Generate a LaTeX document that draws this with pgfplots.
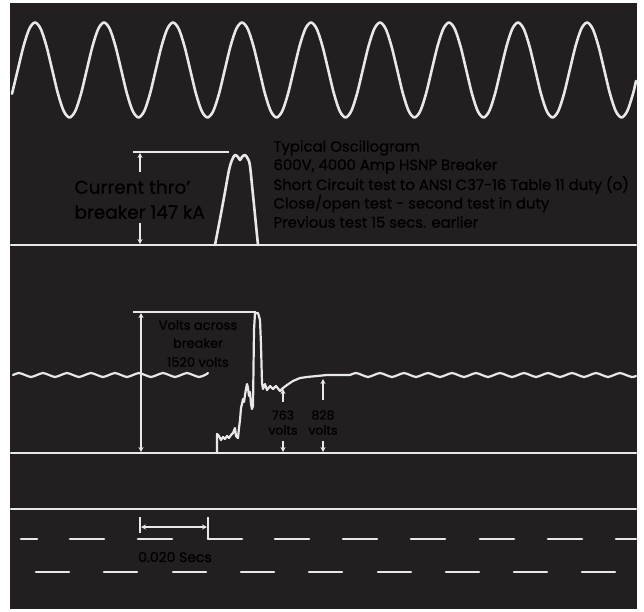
\documentclass[border=0pt]{standalone}
\usepackage{pgfplots}
\pgfplotsset{compat=1.18}
\usepackage{fontspec}
\setmainfont{Poppins}
\usetikzlibrary{arrows.meta}

\definecolor{scope}{RGB}{35,31,32}
\definecolor{trace}{RGB}{232,232,232}
\definecolor{label}{RGB}{214,214,214}

\begin{document}
\begin{tikzpicture}
\begin{axis}[
    width=644bp, height=612bp, scale only axis,
    xmin=0, xmax=644, ymin=0, ymax=612, y dir=reverse,
    hide axis, clip=false,
    trace/.style={draw=trace, line width=2.6bp, line join=round, line cap=round},
    dim/.style={draw=trace, line width=1.6bp},
    arr/.style={-{Stealth[length=5bp,width=5bp]}},
]
% page and screen
\addplot[draw=none, fill=white] coordinates {(0,0)(644,0)(644,612)(0,612)} -- cycle;
\addplot[draw=none, fill=scope] coordinates {(10,3)(637,3)(637,609)(10,609)} -- cycle;

% supply voltage sine
\addplot[trace, smooth] coordinates {
(12,93.8)(17.75,70)(23.5,46.3)(29.25,28.9)
(35,22.5)(40.75,28.9)(46.5,46.3)(52.25,70)(58,93.8)(63.75,111.1)(69.5,117.5)(75.25,111.1)(81,93.8)(86.75,70)(92.5,46.3)(98.25,28.9)
(104,22.5)(109.75,28.9)(115.5,46.3)(121.25,70)(127,93.8)(132.75,111.1)(138.5,117.5)(144.25,111.1)(150,93.8)(155.75,70)(161.5,46.3)(167.25,28.9)
(173,22.5)(178.75,28.9)(184.5,46.3)(190.25,70)(196,93.8)(201.75,111.1)(207.5,117.5)(213.25,111.1)(219,93.8)(224.75,70)(230.5,46.3)(236.25,28.9)
(242,22.5)(247.75,28.9)(253.5,46.3)(259.25,70)(265,93.8)(270.75,111.1)(276.5,117.5)(282.25,111.1)(288,93.8)(293.75,70)(299.5,46.3)(305.25,28.9)
(311,22.5)(316.75,28.9)(322.5,46.3)(328.25,70)(334,93.8)(339.75,111.1)(345.5,117.5)(351.25,111.1)(357,93.8)(362.75,70)(368.5,46.3)(374.25,28.9)
(380,22.5)(385.75,28.9)(391.5,46.3)(397.25,70)(403,93.8)(408.75,111.1)(414.5,117.5)(420.25,111.1)(426,93.8)(431.75,70)(437.5,46.3)(443.25,28.9)
(449,22.5)(454.75,28.9)(460.5,46.3)(466.25,70)(472,93.8)(477.75,111.1)(483.5,117.5)(489.25,111.1)(495,93.8)(500.75,70)(506.5,46.3)(512.25,28.9)
(518,22.5)(523.75,28.9)(529.5,46.3)(535.25,70)(541,93.8)(546.75,111.1)(552.5,117.5)(558.25,111.1)(564,93.8)(569.75,70)(575.5,46.3)(581.25,28.9)
(587,22.5)(592.75,28.9)(598.5,46.3)(604.25,70)(610,93.8)(615.75,111.1)(621.5,117.5)(627.25,111.1)(633,93.8)(636,81)
};

% current trace
\addplot[trace] coordinates {(11,245)(636,245)};
\addplot[trace, smooth] coordinates {
(215,245)(220,219)(225,192)(229,170)(232,160)(235,155)(238,157)(240,160)
(242,157)(245,155)(248,159)(250,166)(253,195)(256,225)(258,245)};
\addplot[dim] coordinates {(133,152)(229,152)};
\addplot[dim, arr] coordinates {(140,172)(140,153)};
\addplot[dim, arr] coordinates {(140,223)(140,244)};

% voltage trace
\addplot[trace] coordinates {(11,453)(636,453)};
\addplot[trace, line width=2.2bp, smooth] coordinates {
(13,375)(19,373)(25,375)(31,377)(37,375)(43,373)(49,375)(55,377)(61,375)(67,373)
(73,375)(79,377)(85,375)(91,373)(97,375)(103,377)(109,375)(115,373)(121,375)(127,377)
(133,375)(139,373)(145,375)(151,377)(157,375)(163,373)(169,375)(175,377)(181,375)(187,373)
(193,375)(199,377)(205,375)(208,373)};
\addplot[trace, line width=2.2bp] coordinates {
(217,453)(217,434)(219,436)(221,440)(223,437)(225,439)(227,436)(229,438)(231,435)(233,433)
(235,428)(236,436)(238,438)(239,428)(240,420)(241,408)(242,404)(243,399)(244,402)(245,395)
(246,389)(247,384)(248,388)(249,396)(250,392)(251,404)(252,409)(253,406)(254,330)(255,313)
(258,313)(260,320)(261,345)(262,383)(263,389)(265,384)(267,390)(270,386)(273,389)(276,386)
(280,391)(283,388)(287,385)(293,381)(300,378)(307,377)(317,376)(327,375)(340,375)(350,375)};
\addplot[trace, line width=2.2bp, smooth] coordinates {
(350,375)(356,373)(362,375)(368,377)(374,375)(380,373)(386,375)(392,377)(398,375)(404,373)(410,375)
(416,377)(422,375)(428,373)(434,375)(440,377)(446,375)(452,373)(458,375)(464,377)(470,375)
(476,373)(482,375)(488,377)(494,375)(500,373)(506,375)(512,377)(518,375)(524,373)(530,375)
(536,377)(542,375)(548,373)(554,375)(560,377)(566,375)(572,373)(578,375)(584,377)(590,375)
(596,373)(602,375)(608,377)(614,375)(620,373)(626,375)(632,377)(636,376)};
\addplot[dim] coordinates {(133,312)(256,312)};
\addplot[dim, arr] coordinates {(141,330)(141,313)};
\addplot[dim, arr] coordinates {(141,330)(141,452)};
\addplot[dim, arr] coordinates {(283,402)(283,389)};
\addplot[dim, arr] coordinates {(283,441)(283,452)};
\addplot[dim, arr] coordinates {(323,400)(323,379)};
\addplot[dim, arr] coordinates {(323,441)(323,452)};

% timing
\addplot[trace] coordinates {(11,509)(636,509)};
\addplot[trace, unbounded coords=jump] coordinates {
(21,539)(37,539)(37,nan)(70,539)(104,539)(104,nan)(138,539)(172,539)(172,nan)
(208,539)(242,539)(242,nan)(275,539)(309,539)(309,nan)(343,539)(377,539)(377,nan)
(411,539)(445,539)(445,nan)(480,539)(514,539)(514,nan)(548,539)(582,539)(582,nan)
(616,539)(636,539)};
\addplot[trace, unbounded coords=jump] coordinates {
(36,572)(69,572)(69,nan)(104,572)(137,572)(137,nan)(173,572)(206,572)(206,nan)
(241,572)(274,572)(274,nan)(309,572)(342,572)(342,nan)(378,572)(411,572)(411,nan)
(446,572)(479,572)(479,nan)(514,572)(547,572)(547,nan)(582,572)(615,572)};
\addplot[dim] coordinates {(140,517)(140,533)};
\addplot[dim] coordinates {(208,517)(208,539)};
\addplot[dim, {Stealth[length=5bp,width=5bp]}-{Stealth[length=5bp,width=5bp]}] coordinates {(141,527)(207,527)};

% labels
\begin{scope}[label, font=\fontsize{18.5}{20}\selectfont\addfontfeature{FakeBold=0.8}]
\node[anchor=west] at (axis cs:71,187) {Current thro'};
\node[anchor=west] at (axis cs:71,212) {breaker 147 kA};
\end{scope}
\begin{scope}[label, font=\fontsize{14.9}{16}\selectfont\addfontfeature{FakeBold=0.8}]
\node[anchor=west] at (axis cs:270,148) {Typical Oscillogram};
\node[anchor=west] at (axis cs:270,166.5) {600V, 4000 Amp HSNP Breaker};
\node[anchor=west] at (axis cs:270,185) {Short Circuit test to ANSI C37-16 Table 11 duty (o)};
\node[anchor=west] at (axis cs:270,203.5) {Close/open test - second test in duty};
\node[anchor=west] at (axis cs:270,222) {Previous test 15 secs. earlier};
\end{scope}
\begin{scope}[label, font=\fontsize{13}{14}\selectfont\addfontfeature{FakeBold=0.8}]
\node at (axis cs:198,325) {Volts across};
\node at (axis cs:198,343) {breaker};
\node at (axis cs:198,362) {1520 volts};
\end{scope}
\begin{scope}[label, font=\fontsize{12.5}{13}\selectfont\addfontfeature{FakeBold=0.8}]
\node at (axis cs:283,415) {763};
\node at (axis cs:283,430) {volts};
\node at (axis cs:323,415) {828};
\node at (axis cs:323,430) {volts};
\end{scope}
\node[label, font=\fontsize{14}{15}\selectfont\addfontfeature{FakeBold=0.8}] at (axis cs:175,557) {0.020 Secs};
\end{axis}
\end{tikzpicture}
\end{document}
